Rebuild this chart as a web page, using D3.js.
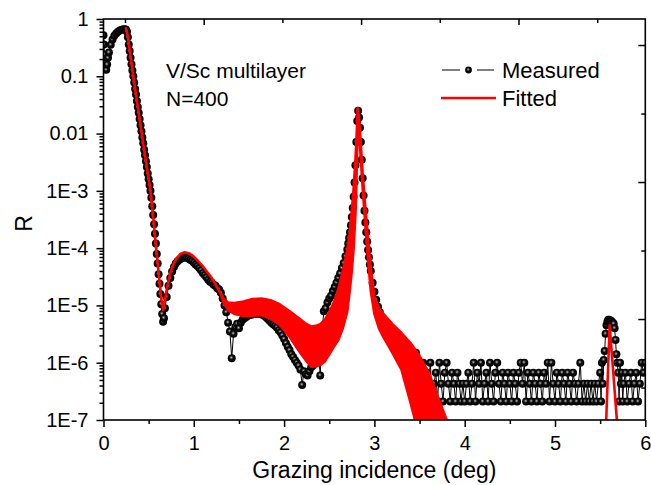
<!DOCTYPE html>
<html>
<head>
<meta charset="utf-8">
<script src="https://cdn.jsdelivr.net/npm/d3@7"></script>
<style>
  body { margin: 0; background: #fff; }
  text { font-family: "Liberation Sans", Arial, sans-serif; fill: #000; }
</style>
</head>
<body>
<script>
// Measured reflectivity: [grazing angle (deg), R]
const measured = [
  [0.000,0.52],[0.005,0.36],[0.010,0.24],[0.015,0.17],[0.020,0.135],[0.030,0.13],[0.040,0.16],[0.050,0.21],
  [0.060,0.26],[0.080,0.355],[0.100,0.44],[0.120,0.51],[0.140,0.56],[0.160,0.60],[0.180,0.63],[0.200,0.65],
  [0.220,0.66],[0.240,0.66],[0.250,0.65],[0.260,0.60],[0.270,0.48],[0.280,0.36],[0.290,0.275],[0.300,0.21],
  [0.310,0.162],[0.320,0.126],[0.330,0.1],[0.340,0.078],[0.350,0.060],[0.360,0.048],[0.370,0.037],[0.380,0.029],
  [0.390,0.023],[0.400,0.018],[0.410,0.014],[0.420,0.011],[0.430,0.0085],[0.440,0.0068],[0.450,0.0052],[0.460,0.0042],
  [0.470,0.0033],[0.480,0.0026],[0.490,0.0020],[0.500,0.0016],[0.510,1.26e-3],[0.520,1.0e-3],[0.530,7.6e-4],[0.540,5.4e-4],
  [0.550,3.8e-4],[0.560,2.6e-4],[0.570,1.78e-4],[0.580,1.2e-4],[0.590,7.9e-5],[0.600,5.4e-5],[0.610,3.5e-5],[0.620,2.4e-5],
  [0.630,1.58e-5],[0.640,1.05e-5],[0.650,7.1e-6],[0.660,5.2e-6],[0.670,6.0e-6],[0.680,8.9e-6],[0.700,1.4e-5],[0.720,2.2e-5],
  [0.740,3.0e-5],[0.760,3.9e-5],[0.780,4.7e-5],[0.800,5.4e-5],[0.820,5.9e-5],[0.840,6.3e-5],[0.860,6.6e-5],[0.880,6.8e-5],
  [0.900,6.9e-5],[0.920,6.8e-5],[0.940,6.6e-5],[0.960,6.3e-5],[0.980,6.0e-5],[1.000,5.6e-5],[1.020,5.2e-5],[1.040,4.9e-5],
  [1.060,4.5e-5],[1.080,4.1e-5],[1.100,3.7e-5],[1.120,3.4e-5],[1.140,3.1e-5],[1.160,2.8e-5],[1.180,2.6e-5],[1.200,2.5e-5],
  [1.220,2.3e-5],[1.240,2.2e-5],[1.260,2.0e-5],[1.280,1.9e-5],[1.300,1.66e-5],[1.320,1.32e-5],[1.340,1.0e-5],[1.360,7.6e-6],
  [1.380,5.0e-6],[1.400,3.5e-6],[1.420,1.2e-6],[1.440,3.2e-6],[1.460,4.2e-6],[1.480,4.8e-6],[1.500,4.0e-6],[1.520,5.0e-6],
  [1.540,5.6e-6],[1.560,6.0e-6],[1.580,6.3e-6],[1.600,6.6e-6],[1.620,6.8e-6],[1.640,6.9e-6],[1.660,7.1e-6],[1.680,7.1e-6],
  [1.700,7.2e-6],[1.720,7.2e-6],[1.740,7.1e-6],[1.760,6.9e-6],[1.780,6.6e-6],[1.800,6.2e-6],[1.820,5.8e-6],[1.840,5.4e-6],
  [1.860,5.0e-6],[1.880,4.7e-6],[1.900,4.4e-6],[1.920,4.1e-6],[1.940,3.7e-6],[1.960,3.4e-6],[1.980,3.0e-6],[2.000,2.6e-6],
  [2.020,2.2e-6],[2.040,1.9e-6],[2.060,1.66e-6],[2.080,1.4e-6],[2.100,1.26e-6],[2.120,1.12e-6],[2.140,1.0e-6],[2.160,8.9e-7],
  [2.180,7.6e-7],[2.200,4.1e-7],[2.220,7.1e-7],[2.240,6.3e-7],[2.260,6.0e-7],[2.280,7.1e-7],[2.300,8.3e-7],[2.320,8.9e-7],
  [2.340,1.05e-6],[2.360,1.26e-6],[2.380,1.58e-6],[2.400,6.0e-7],[2.420,3.5e-6],[2.440,7.9e-6],[2.460,8.9e-6],[2.480,1.12e-5],
  [2.500,1.32e-5],[2.520,1.48e-5],[2.540,1.78e-5],[2.560,2.1e-5],[2.580,2.5e-5],[2.600,3.0e-5],[2.620,3.6e-5],[2.640,4.5e-5],
  [2.660,5.5e-5],[2.680,7.2e-5],[2.700,9.5e-5],[2.710,1.2e-4],[2.720,1.5e-4],[2.730,1.9e-4],[2.740,2.5e-4],[2.750,3.5e-4],
  [2.760,5.0e-4],[2.770,7.9e-4],[2.780,1.4e-3],[2.790,2.8e-3],[2.800,7.1e-3],[2.810,0.0166],[2.820,0.025],[2.830,0.019],
  [2.840,0.0126],[2.850,7.1e-3],[2.860,3.5e-3],[2.870,1.66e-3],[2.880,8.3e-4],[2.890,4.5e-4],[2.900,2.8e-4],[2.910,1.9e-4],
  [2.920,1.3e-4],[2.930,9.3e-5],[2.940,6.9e-5],[2.950,5.2e-5],[2.960,4.0e-5],[2.980,2.5e-5],[3.000,1.74e-5],[3.020,1.26e-5],
  [3.040,9.5e-6],[3.060,7.6e-6],[3.080,6.0e-6],[3.100,5.0e-6],[3.120,4.0e-6],[3.140,3.3e-6],[3.160,2.8e-6],[3.180,2.5e-6],
  [3.200,2.2e-6],[3.220,2.0e-6],[3.240,1.8e-6],[3.260,1.66e-6],[3.280,1.58e-6],[3.300,1.45e-6],[3.320,1.0e-6],[3.340,1.5e-6],
  [3.360,6.7e-7],[3.380,1.45e-6],[3.400,4.3e-7],[3.420,1.0e-6],[3.440,4.3e-7],[3.460,1.5e-6],[3.480,6.7e-7],[3.500,2.1e-7],
  [3.520,4.3e-7],[3.540,1.0e-6],[3.560,2.1e-7],[3.580,6.7e-7],[3.600,4.3e-7],[3.620,1.0e-6],[3.640,2.1e-7],[3.660,4.3e-7],
  [3.680,6.7e-7],[3.700,2.1e-7],[3.720,1.0e-6],[3.740,4.3e-7],[3.760,2.1e-7],[3.780,6.7e-7],[3.800,1.0e-6],[3.820,4.3e-7],
  [3.840,2.1e-7],[3.860,6.7e-7],[3.880,4.3e-7],[3.900,2.1e-7],[3.920,6.7e-7],[3.940,4.3e-7],[3.960,2.1e-7],[3.980,4.3e-7],
  [4.000,2.1e-7],[4.020,4.3e-7],[4.040,6.7e-7],[4.060,2.1e-7],[4.080,4.3e-7],[4.100,1.0e-6],[4.120,2.1e-7],[4.140,6.7e-7],
  [4.160,4.3e-7],[4.180,1.0e-6],[4.200,2.1e-7],[4.220,4.3e-7],[4.240,6.7e-7],[4.260,2.1e-7],[4.280,1.0e-6],[4.300,4.3e-7],
  [4.320,2.1e-7],[4.340,6.7e-7],[4.360,1.0e-6],[4.380,4.3e-7],[4.400,2.1e-7],[4.420,6.7e-7],[4.440,4.3e-7],[4.460,2.1e-7],
  [4.480,6.7e-7],[4.500,4.3e-7],[4.520,2.1e-7],[4.540,6.7e-7],[4.560,4.3e-7],[4.580,2.1e-7],[4.600,6.7e-7],[4.620,1.0e-6],
  [4.640,4.3e-7],[4.660,1.0e-6],[4.680,2.1e-7],[4.700,6.7e-7],[4.720,4.3e-7],[4.740,2.1e-7],[4.760,6.7e-7],[4.780,4.3e-7],
  [4.800,2.1e-7],[4.820,6.7e-7],[4.840,4.3e-7],[4.860,2.1e-7],[4.880,6.7e-7],[4.900,4.3e-7],[4.920,1.0e-6],[4.940,2.1e-7],
  [4.960,1.0e-6],[4.980,4.3e-7],[5.000,2.1e-7],[5.020,6.7e-7],[5.040,4.3e-7],[5.060,2.1e-7],[5.080,6.7e-7],[5.100,4.3e-7],
  [5.120,2.1e-7],[5.140,6.7e-7],[5.160,4.3e-7],[5.180,2.1e-7],[5.200,6.7e-7],[5.220,4.3e-7],[5.240,2.1e-7],[5.260,4.3e-7],
  [5.280,1.0e-6],[5.300,2.1e-7],[5.320,4.3e-7],[5.340,2.1e-7],[5.360,4.3e-7],[5.380,2.1e-7],[5.400,4.3e-7],[5.420,2.1e-7],
  [5.440,4.3e-7],[5.460,2.1e-7],[5.480,4.3e-7],[5.500,6.7e-7],[5.510,2.1e-7],[5.520,1.0e-6],[5.530,4.3e-7],[5.540,1.12e-6],
  [5.550,1.6e-6],[5.560,3.2e-6],[5.570,4.5e-6],[5.580,5.2e-6],[5.590,5.6e-6],[5.600,5.6e-6],[5.610,5.4e-6],[5.620,5.4e-6],
  [5.630,5.2e-6],[5.640,5.0e-6],[5.650,4.8e-6],[5.660,4.0e-6],[5.670,2.5e-6],[5.680,1.4e-6],[5.690,1.0e-6],[5.700,6.7e-7],
  [5.710,2.1e-7],[5.720,1.0e-6],[5.730,4.3e-7],[5.740,6.7e-7],[5.750,2.1e-7],[5.760,4.3e-7],[5.780,6.7e-7],[5.800,2.1e-7],
  [5.820,4.3e-7],[5.840,6.7e-7],[5.860,2.1e-7],[5.880,4.3e-7],[5.900,6.7e-7],[5.920,2.1e-7],[5.940,4.3e-7],[5.960,1.0e-6],
  [5.980,6.7e-7],[6.000,1.0e-6]
];

// Fitted curve: [angle, upper envelope, lower envelope] (fast fringes fill the band)
const fitted = [
  [0.25,0.69,0.69],[0.27,0.50,0.50],[0.30,0.22,0.22],[0.33,0.1,0.1],[0.38,0.0295,0.0295],[0.423,0.01,0.01],
  [0.47,3.3e-3,3.3e-3],[0.52,1.0e-3,1.0e-3],[0.55,3.5e-4,3.5e-4],[0.58,1.12e-4,1.12e-4],[0.61,3.8e-5,3.8e-5],
  [0.64,1.32e-5,1.32e-5],[0.66,8.3e-6,8.3e-6],[0.68,1.2e-5,1.2e-5],[0.70,1.9e-5,1.9e-5],[0.73,3.2e-5,3.2e-5],
  [0.76,4.7e-5,4.7e-5],[0.80,6.3e-5,6.3e-5],[0.85,7.9e-5,7.9e-5],[0.90,8.5e-5,8.5e-5],[0.95,8.1e-5,8.1e-5],
  [1.00,7.1e-5,7.1e-5],[1.05,5.9e-5,5.9e-5],[1.10,4.8e-5,4.8e-5],[1.15,3.8e-5,3.8e-5],[1.20,3.0e-5,3.0e-5],
  [1.25,2.2e-5,2.2e-5],[1.30,1.58e-5,1.58e-5],[1.33,1.32e-5,1.12e-5],[1.38,1.12e-5,8.3e-6],[1.45,1.1e-5,7.1e-6],
  [1.55,1.17e-5,6.6e-6],[1.65,1.29e-5,6.6e-6],[1.75,1.32e-5,6.8e-6],[1.85,1.23e-5,5.9e-6],[1.95,1.05e-5,4.6e-6],
  [2.05,8.1e-6,3.0e-6],[2.15,6.2e-6,1.74e-6],[2.25,4.7e-6,1.05e-6],[2.30,4.3e-6,8.5e-7],[2.35,4.4e-6,8.7e-7],
  [2.40,4.7e-6,9.1e-7],[2.45,5.6e-6,1.05e-6],[2.50,7.6e-6,1.4e-6],[2.55,1.12e-5,1.9e-6],[2.60,1.9e-5,2.5e-6],
  [2.65,4.0e-5,4.0e-6],[2.70,9.3e-5,7.9e-6],[2.73,2.0e-4,2.0e-5],[2.75,4.5e-4,4.0e-5],[2.77,1.12e-3,1.0e-4],
  [2.79,3.5e-3,4.0e-4],[2.80,7.1e-3,1.26e-3],[2.81,0.0178,6.3e-3],[2.815,0.028,0.0126],[2.82,0.026,0.0178],
  [2.83,0.0178,0.0112],[2.85,6.3e-3,3.5e-3],[2.87,2.0e-3,1.12e-3],[2.90,5.0e-4,2.5e-4],[2.93,1.4e-4,6.3e-5],
  [2.96,4.5e-5,1.78e-5],[3.00,1.4e-5,7.1e-6],[3.05,8.9e-6,4.0e-6],[3.10,7.1e-6,2.8e-6],[3.20,4.7e-6,1.48e-6],
  [3.30,3.3e-6,7.6e-7],[3.40,2.2e-6,2.0e-7],[3.50,1.32e-6,5.0e-8],[3.60,6.8e-7,2.5e-8],[3.70,2.6e-7,2.5e-8],
  [3.80,1.0e-7,2.5e-8],[3.85,5.0e-8,2.5e-8],[3.90,2.5e-8,2.5e-8],[5.50,2.5e-8,2.5e-8],[5.565,8e-8,8e-8],
  [5.605,4.5e-6,4.5e-6],[5.69,8e-8,8e-8],[5.75,2.5e-8,2.5e-8],[6.00,2.5e-8,2.5e-8]
];

// Axis ticks
const xTicks = [0, 1, 2, 3, 4, 5, 6];
const xMinorTicks = [0.5, 1.5, 2.5, 3.5, 4.5, 5.5];
const yTicks = [1e-7, 1e-6, 1e-5, 1e-4, 1e-3, 0.01, 0.1, 1];
const yTickLabels = ["1E-7", "1E-6", "1E-5", "1E-4", "1E-3", "0.01", "0.1", "1"];
// secondary (unlabelled) top and right axes
const topTicks = [1, 2, 3];
const topMinorTicks = [0.5, 1.5, 2.5, 3.5];
const rightTicks = [1, 2, 3];
const rightMinorTicks = [0.5, 1.5, 2.5];

const w = 651, h = 485;
const plot = { left: 103.5, right: 645.3, top: 19, bottom: 420 };

const svg = d3.select("body").append("svg")
  .attr("width", w)
  .attr("height", h);

const x = d3.scaleLinear().domain([0, 6]).range([plot.left, plot.right]);
const y = d3.scaleLog().domain([1e-7, 1]).range([plot.bottom, plot.top]);
const xTop = d3.scaleLinear().domain([0.3634, 3.8056]).range([plot.left, plot.right]);
const yRight = d3.scaleLinear().domain([0.263, 3.19]).range([plot.bottom, plot.top]);

// Sphere look of the measured symbols
const defs = svg.append("defs");
const grad = defs.append("radialGradient")
  .attr("id", "ball")
  .attr("cx", "45%").attr("cy", "42%").attr("r", "58%");
grad.append("stop").attr("offset", "0%").attr("stop-color", "#c8c8c8");
grad.append("stop").attr("offset", "18%").attr("stop-color", "#6a6a6a");
grad.append("stop").attr("offset", "42%").attr("stop-color", "#0c0c0c");
grad.append("stop").attr("offset", "100%").attr("stop-color", "#000");

defs.append("clipPath").attr("id", "clip")
  .append("rect")
  .attr("x", plot.left).attr("y", plot.top)
  .attr("width", plot.right - plot.left)
  .attr("height", plot.bottom - plot.top);

// Measured: thin connecting line + balls
const gData = svg.append("g").attr("clip-path", "url(#clip)");

gData.append("path")
  .datum(measured)
  .attr("fill", "none")
  .attr("stroke", "#000")
  .attr("stroke-width", 1)
  .attr("d", d3.line().x(d => x(d[0])).y(d => y(d[1])));

gData.selectAll("circle.meas")
  .data(measured)
  .enter()
  .append("circle")
  .attr("class", "meas")
  .attr("cx", d => x(d[0]))
  .attr("cy", d => y(d[1]))
  .attr("r", 4)
  .attr("fill", "url(#ball)");

// Fitted: band between envelopes, outlined with the red line
gData.append("path")
  .datum(fitted)
  .attr("fill", "#ff0000")
  .attr("stroke", "#ff0000")
  .attr("stroke-width", 2.6)
  .attr("stroke-linejoin", "round")
  .attr("d", d3.area()
    .x(d => x(d[0]))
    .y0(d => y(d[2]))
    .y1(d => y(d[1])));

// Axes
const axisStyle = g => {
  g.select(".domain").remove();
  g.selectAll("line").attr("stroke", "#000").attr("stroke-width", 1.5);
  g.selectAll("text").attr("font-size", 20).attr("font-family", "'Liberation Sans', Arial, sans-serif");
};

svg.append("g")
  .attr("transform", `translate(0,${plot.bottom})`)
  .call(d3.axisBottom(x).tickValues(xTicks).tickFormat(d3.format("d")).tickSize(7).tickPadding(9).tickSizeOuter(0))
  .call(axisStyle);

svg.append("g")
  .attr("transform", `translate(0,${plot.bottom})`)
  .call(d3.axisBottom(x).tickValues(xMinorTicks).tickFormat("").tickSize(4).tickSizeOuter(0))
  .call(axisStyle);

svg.append("g")
  .attr("transform", `translate(${plot.left},0)`)
  .call(d3.axisLeft(y).tickValues(yTicks).tickFormat((d, i) => yTickLabels[i]).tickSize(7).tickPadding(8).tickSizeOuter(0))
  .call(axisStyle);

svg.append("g")
  .attr("transform", `translate(${plot.left},0)`)
  .call(d3.axisLeft(y).tickValues(y.ticks().filter(t => !yTicks.some(m => Math.abs(m - t) / m < 1e-6))).tickFormat("").tickSize(4).tickSizeOuter(0))
  .call(axisStyle);

svg.append("g")
  .attr("transform", `translate(0,${plot.top})`)
  .call(d3.axisTop(xTop).tickValues(topTicks).tickFormat("").tickSize(-6).tickSizeOuter(0))
  .call(axisStyle);

svg.append("g")
  .attr("transform", `translate(0,${plot.top})`)
  .call(d3.axisTop(xTop).tickValues(topMinorTicks).tickFormat("").tickSize(-4).tickSizeOuter(0))
  .call(axisStyle);

svg.append("g")
  .attr("transform", `translate(${plot.right},0)`)
  .call(d3.axisRight(yRight).tickValues(rightTicks).tickFormat("").tickSize(-7).tickSizeOuter(0))
  .call(axisStyle);

svg.append("g")
  .attr("transform", `translate(${plot.right},0)`)
  .call(d3.axisRight(yRight).tickValues(rightMinorTicks).tickFormat("").tickSize(-4).tickSizeOuter(0))
  .call(axisStyle);

// Frame
svg.append("rect")
  .attr("x", plot.left).attr("y", plot.top)
  .attr("width", plot.right - plot.left)
  .attr("height", plot.bottom - plot.top)
  .attr("fill", "none")
  .attr("stroke", "#000")
  .attr("stroke-width", 1.6);

// Axis titles
svg.append("text")
  .attr("x", (plot.left + plot.right) / 2)
  .attr("y", 478)
  .attr("text-anchor", "middle")
  .attr("font-size", 23)
  .text("Grazing incidence (deg)");

svg.append("text")
  .attr("transform", `translate(32,${(plot.top + plot.bottom) / 2 + 4}) rotate(-90)`)
  .attr("text-anchor", "middle")
  .attr("font-size", 23)
  .text("R");

// Annotation
svg.append("text").attr("x", 166).attr("y", 78).attr("font-size", 21).text("V/Sc multilayer");
svg.append("text").attr("x", 166).attr("y", 106).attr("font-size", 21).text("N=400");

// Legend
const legend = svg.append("g");
legend.append("line").attr("x1", 442).attr("x2", 460).attr("y1", 70).attr("y2", 70)
  .attr("stroke", "#000").attr("stroke-width", 1);
legend.append("line").attr("x1", 477).attr("x2", 494).attr("y1", 70).attr("y2", 70)
  .attr("stroke", "#000").attr("stroke-width", 1);
legend.append("circle").attr("cx", 468.5).attr("cy", 70).attr("r", 3.4).attr("fill", "url(#ball)");
legend.append("text").attr("x", 502).attr("y", 78).attr("font-size", 22).text("Measured");
legend.append("line").attr("x1", 441).attr("x2", 496).attr("y1", 98).attr("y2", 98)
  .attr("stroke", "#ff0000").attr("stroke-width", 2.6);
legend.append("text").attr("x", 502).attr("y", 106).attr("font-size", 22).text("Fitted");
</script>
</body>
</html>
